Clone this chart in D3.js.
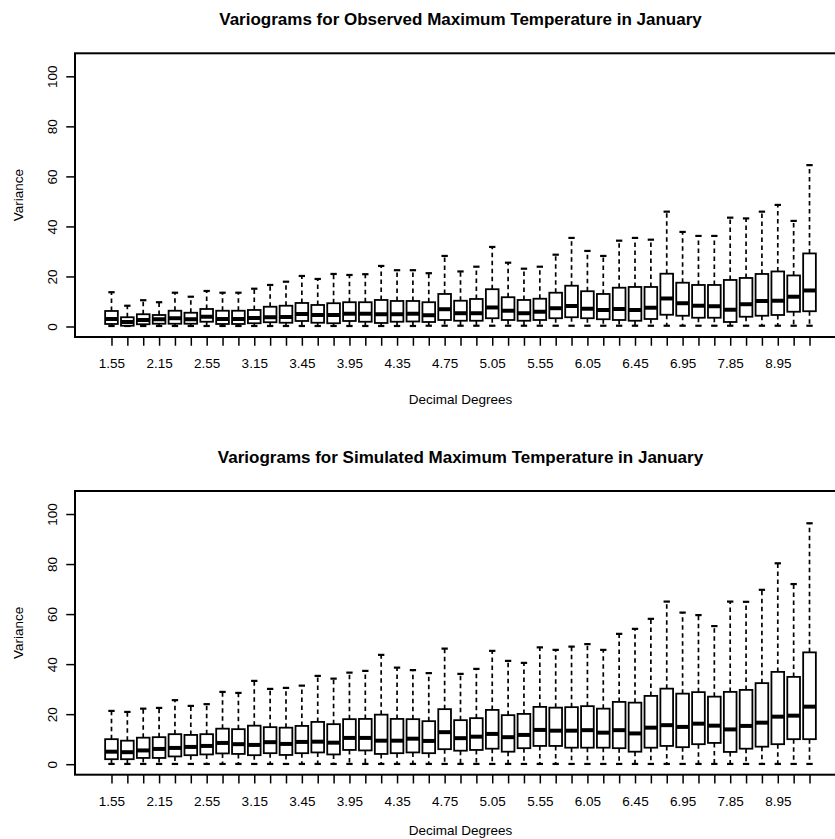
<!DOCTYPE html>
<html>
<head>
<meta charset="utf-8">
<script src="https://cdn.jsdelivr.net/npm/d3@7"></script>
<style>
  body { margin: 0; background: #fff; }
  svg { display: block; }
  text { font-family: "Liberation Sans", Arial, Helvetica, sans-serif; fill: #000; }
</style>
</head>
<body>
<svg id="chart" width="835" height="839"></svg>
<script>
// Distance bins (decimal degrees), one box per bin
const distanceBins = [
  "1.55","1.75","1.95","2.15","2.25","2.45","2.55","2.75","2.95","3.15",
  "3.25","3.35","3.45","3.65","3.85","3.95","4.05","4.25","4.35","4.45",
  "4.65","4.75","4.85","4.95","5.05","5.25","5.45","5.55","5.75","5.95",
  "6.05","6.15","6.35","6.45","6.65","6.85","6.95","7.25","7.55","7.85",
  "8.25","8.65","8.95","9.35","9.95"
];

// Observed maximum temperature, January: five-number summaries per bin
const observedLow = [
  0.2,0.2,0.2,0.2,0.2,0.2,0.2,0.2,0.2,0.2,0.2,0.2,0.2,0.2,0.2,0.2,0.2,0.2,0.2,0.2,
  0.3,0.3,0.3,0.3,0.3,0.3,0.3,0.3,0.3,0.3,0.3,0.3,0.3,0.3,0.3,0.3,0.3,0.3,0.3,0.3,
  0.3,0.3,0.3,0.3,0.3
];
const observedQ1 = [
  1.0,0.3,0.9,1.1,1.1,1.1,1.9,1.0,1.0,1.3,1.7,1.5,2.2,1.5,1.3,2.2,1.9,1.4,1.9,2.0,
  1.8,2.6,2.3,2.3,3.3,2.6,2.3,2.6,3.3,3.7,3.3,2.9,2.6,2.3,3.0,4.7,4.3,3.5,3.5,1.8,
  3.9,4.3,4.6,5.9,6.1
];
const observedMedian = [
  3.0,1.8,2.6,2.9,3.3,2.9,3.9,3.0,3.0,3.4,3.7,3.8,5.0,4.6,4.6,5.1,5.1,4.9,4.9,5.1,
  4.5,6.9,5.3,5.3,7.6,6.3,5.3,5.9,7.3,8.2,7.1,6.6,7.0,6.6,7.5,11.2,9.3,8.3,8.1,6.7,
  8.9,10.2,10.3,11.9,14.4
];
const observedQ3 = [
  6.2,3.7,4.9,4.6,6.3,5.5,7.0,6.3,6.3,6.6,7.9,8.3,9.4,8.6,9.3,9.7,9.7,10.6,10.2,10.2,
  9.7,13.0,10.3,11.0,14.9,11.7,10.6,11.1,13.5,16.3,14.1,13.0,15.5,15.8,15.8,21.1,17.5,16.6,16.6,18.6,
  19.4,21.0,22.0,20.4,29.2
];
const observedHigh = [
  13.7,8.3,10.5,9.7,13.5,11.9,14.2,13.5,13.5,15.1,16.6,17.9,20.2,19.0,21.0,20.6,20.9,24.2,22.5,22.5,
  21.3,28.2,22.0,23.9,31.8,25.5,23.1,23.9,28.7,35.4,30.2,28.2,34.3,35.4,34.7,45.9,37.8,36.2,36.2,43.5,
  43.2,45.9,48.6,42.2,64.5
];

// Simulated maximum temperature, January: five-number summaries per bin
const simulatedLow = [
  0.1,0.1,0.1,0.1,0.1,0.1,0.1,0.1,0.1,0.1,0.1,0.1,0.1,0.1,0.1,0.1,0.1,0.1,0.1,0.1,
  0.1,0.1,0.1,0.1,0.1,0.1,0.1,0.1,0.1,0.1,0.1,0.1,0.1,0.1,0.1,0.1,0.1,0.1,0.1,0.1,
  0.1,0.1,0.1,0.1,0.1
];
const simulatedQ1 = [
  2.0,2.0,2.5,2.5,3.1,3.6,3.9,4.3,4.1,3.6,4.4,3.7,4.4,4.7,3.9,5.7,5.5,4.1,4.4,4.7,
  4.4,6.0,5.4,5.7,6.2,5.0,6.4,7.3,7.3,6.6,6.6,6.6,6.4,5.0,6.6,7.3,6.8,8.0,8.5,4.9,
  6.2,7.0,8.0,10.0,10.0
];
const simulatedMedian = [
  5.0,4.8,5.5,6.1,6.5,6.9,7.3,8.5,8.0,7.7,8.8,8.1,8.9,9.0,8.6,10.5,10.5,9.4,9.4,10.2,
  9.3,12.8,10.4,11.0,12.1,10.8,11.7,13.7,13.4,13.4,13.6,12.6,13.6,12.3,14.6,15.6,14.9,16.2,15.4,13.9,
  15.3,16.6,19.0,19.4,23.0
];
const simulatedQ3 = [
  10.0,9.4,10.6,10.8,12.0,11.7,12.0,14.2,14.0,15.4,14.8,14.6,15.3,16.9,16.0,18.0,18.1,19.8,18.1,18.0,
  17.2,22.0,17.6,18.4,21.7,19.6,20.1,22.9,22.6,22.8,23.2,22.2,24.9,24.6,27.3,30.2,28.2,28.8,27.0,28.9,
  29.7,32.4,36.9,34.9,44.7
];
const simulatedHigh = [
  21.3,20.9,22.2,22.5,25.6,23.3,24.0,28.9,28.5,33.3,30.1,30.5,31.4,35.3,34.2,36.6,37.3,43.7,38.6,37.6,
  36.4,46.2,36.1,38.1,45.3,41.3,40.5,46.7,45.7,47.0,48.0,45.7,52.1,54.1,58.1,65.0,60.6,59.6,55.2,65.0,
  64.9,69.7,80.3,72.0,96.3
];

const yTicks = [0, 20, 40, 60, 80, 100];
const yLimits = [0, 105];
const panelTitles = [
  "Variograms for Observed Maximum Temperature in January",
  "Variograms for Simulated Maximum Temperature in January"
];
const xTitle = "Decimal Degrees";
const yTitle = "Variance";

function summaries(low, q1, med, q3, high) {
  return distanceBins.map((bin, i) => ({
    index: i + 1, bin, low: low[i], q1: q1[i], med: med[i], q3: q3[i], high: high[i]
  }));
}

const panels = [
  { title: panelTitles[0], top: 53.3, rows: summaries(observedLow, observedQ1, observedMedian, observedQ3, observedHigh) },
  { title: panelTitles[1], top: 491.0, rows: summaries(simulatedLow, simulatedQ1, simulatedMedian, simulatedQ3, simulatedHigh) }
];

const W = 835, H = 839;
const svg = d3.select("#chart");
svg.append("rect").attr("width", W).attr("height", H).attr("fill", "#fff");

// plot region geometry (right edge runs past the canvas)
const left = 75, right = 846, plotH = 283.7;
const n = distanceBins.length;
const xPad = 0.04 * n;
const yPad = 0.04 * (yLimits[1] - yLimits[0]);
const fontSize = 13.5;
const tickLen = 8.75;

panels.forEach(panel => {
  const g = svg.append("g").attr("transform", `translate(0,${panel.top})`);

  const x = d3.scaleLinear().domain([0.5 - xPad, n + 0.5 + xPad]).range([left, right]);
  const y = d3.scaleLinear().domain([yLimits[0] - yPad, yLimits[1] + yPad]).range([plotH, 0]);
  const boxW = x(0.8) - x(0);
  const stapleW = boxW / 2;

  // boxes
  const box = g.append("g").selectAll("g").data(panel.rows).join("g");

  box.append("line")
    .attr("x1", d => x(d.index)).attr("x2", d => x(d.index))
    .attr("y1", d => y(d.q3)).attr("y2", d => y(d.high))
    .attr("stroke", "#000").attr("stroke-width", 1.7).attr("stroke-dasharray", "4.5,3.5");
  box.append("line")
    .attr("x1", d => x(d.index)).attr("x2", d => x(d.index))
    .attr("y1", d => y(d.q1)).attr("y2", d => y(d.low))
    .attr("stroke", "#000").attr("stroke-width", 1.7).attr("stroke-dasharray", "4.5,3.5");

  box.append("line")
    .attr("x1", d => x(d.index) - stapleW / 2).attr("x2", d => x(d.index) + stapleW / 2)
    .attr("y1", d => y(d.high)).attr("y2", d => y(d.high))
    .attr("stroke", "#000").attr("stroke-width", 2.2);
  box.append("line")
    .attr("x1", d => x(d.index) - stapleW / 2).attr("x2", d => x(d.index) + stapleW / 2)
    .attr("y1", d => y(d.low)).attr("y2", d => y(d.low))
    .attr("stroke", "#000").attr("stroke-width", 2.2);

  box.append("rect")
    .attr("x", d => x(d.index) - boxW / 2).attr("width", boxW)
    .attr("y", d => y(d.q3)).attr("height", d => y(d.q1) - y(d.q3))
    .attr("fill", "#fff").attr("stroke", "#000").attr("stroke-width", 1.8);

  box.append("line")
    .attr("x1", d => x(d.index) - boxW / 2).attr("x2", d => x(d.index) + boxW / 2)
    .attr("y1", d => y(d.med)).attr("y2", d => y(d.med))
    .attr("stroke", "#000").attr("stroke-width", 4);

  // y axis
  const yAxis = g.append("g").attr("transform", `translate(${left},0)`)
    .call(d3.axisLeft(y).tickValues(yTicks).tickSize(tickLen).tickFormat(d3.format("d")));
  yAxis.select(".domain").remove();
  yAxis.selectAll(".tick line").attr("stroke", "#000").attr("stroke-width", 1.5);
  yAxis.selectAll(".tick text")
    .attr("x", 0).attr("y", -18).attr("dy", null)
    .attr("transform", "rotate(-90)")
    .attr("text-anchor", "middle")
    .style("font-size", fontSize + "px");

  // x axis: every bin has a tick, labels where they fit
  const xAxis = g.append("g").attr("transform", `translate(0,${plotH})`)
    .call(d3.axisBottom(x)
      .tickValues(d3.range(1, n + 1))
      .tickSize(tickLen)
      .tickFormat(i => ((i - 1) % 3 === 0 ? distanceBins[i - 1] : "")));
  xAxis.select(".domain").remove();
  xAxis.selectAll(".tick line").attr("stroke", "#000").attr("stroke-width", 1.5);
  xAxis.selectAll(".tick text")
    .attr("y", 31).attr("dy", null)
    .style("font-size", fontSize + "px");

  // frame
  g.append("rect")
    .attr("x", left).attr("y", 0).attr("width", right - left).attr("height", plotH)
    .attr("fill", "none").attr("stroke", "#000").attr("stroke-width", 2);

  // titles
  const cx = (left + right) / 2;
  g.append("text").attr("x", cx).attr("y", -28).attr("text-anchor", "middle")
    .style("font-size", "17px").style("font-weight", "bold").text(panel.title);
  // x-axis title, kept inside the canvas for the lower panel
  const xTitleY = Math.min(plotH + 67, H - 4 - panel.top);
  g.append("text").attr("x", cx).attr("y", xTitleY).attr("text-anchor", "middle")
    .style("font-size", fontSize + "px").text(xTitle);
  g.append("text")
    .attr("transform", `translate(23,${plotH / 2}) rotate(-90)`)
    .attr("text-anchor", "middle")
    .style("font-size", fontSize + "px").text(yTitle);
});
</script>
</body>
</html>
